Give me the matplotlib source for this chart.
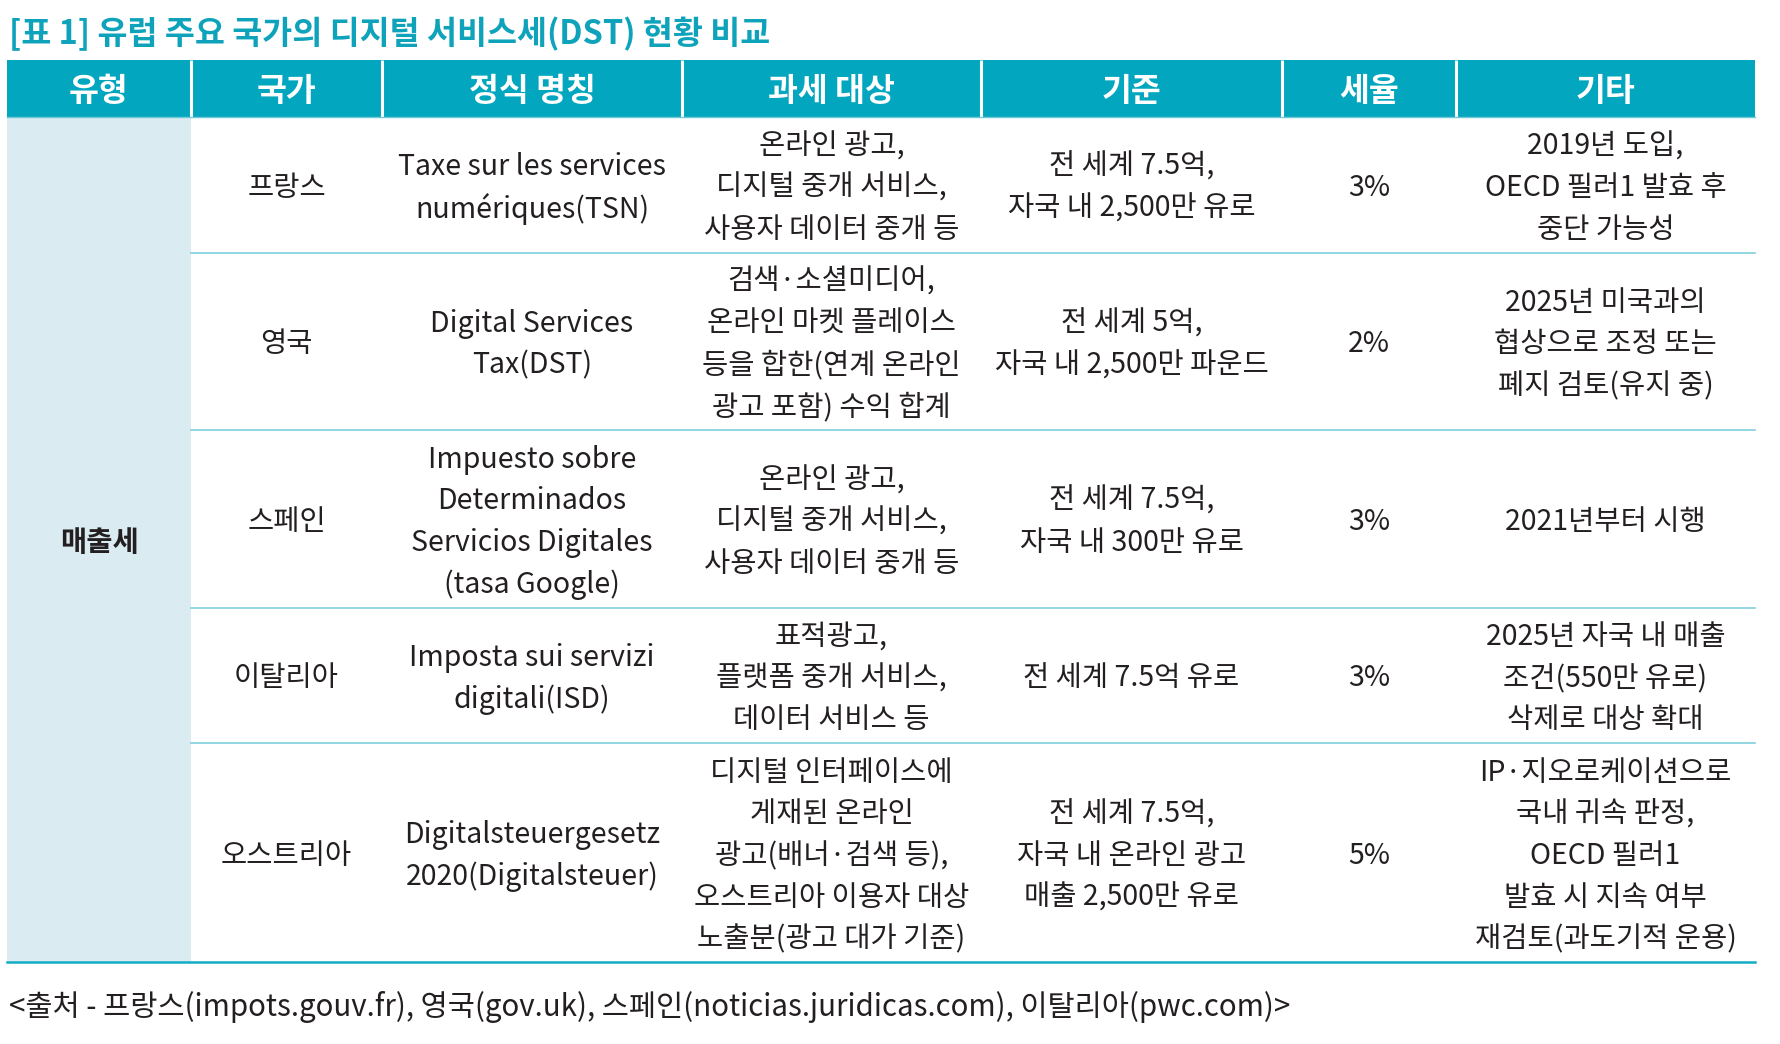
import matplotlib.pyplot as plt
from matplotlib.patches import Rectangle

plt.rcParams['font.family'] = ['Noto Sans CJK KR', 'DejaVu Sans']

title = "[표 1] 유럽 주요 국가의 디지털 서비스세(DST) 현황 비교"
headers = ["유형", "국가", "정식 명칭", "과세 대상", "기준", "세율", "기타"]
tax_type = "매출세"
countries = ["프랑스", "영국", "스페인", "이탈리아", "오스트리아"]
official_names = [
    ["Taxe sur les services", "numériques(TSN)"],
    ["Digital Services", "Tax(DST)"],
    ["Impuesto sobre", "Determinados", "Servicios Digitales", "(tasa Google)"],
    ["Imposta sui servizi", "digitali(ISD)"],
    ["Digitalsteuergesetz", "2020(Digitalsteuer)"],
]
targets = [
    ["온라인 광고,", "디지털 중개 서비스,", "사용자 데이터 중개 등"],
    ["검색·소셜미디어,", "온라인 마켓 플레이스", "등을 합한(연계 온라인", "광고 포함) 수익 합계"],
    ["온라인 광고,", "디지털 중개 서비스,", "사용자 데이터 중개 등"],
    ["표적광고,", "플랫폼 중개 서비스,", "데이터 서비스 등"],
    ["디지털 인터페이스에", "게재된 온라인", "광고(배너·검색 등),", "오스트리아 이용자 대상", "노출분(광고 대가 기준)"],
]
thresholds = [
    ["전 세계 7.5억,", "자국 내 2,500만 유로"],
    ["전 세계 5억,", "자국 내 2,500만 파운드"],
    ["전 세계 7.5억,", "자국 내 300만 유로"],
    ["전 세계 7.5억 유로"],
    ["전 세계 7.5억,", "자국 내 온라인 광고", "매출 2,500만 유로"],
]
rates = ["3%", "2%", "3%", "3%", "5%"]
notes = [
    ["2019년 도입,", "OECD 필러1 발효 후", "중단 가능성"],
    ["2025년 미국과의", "협상으로 조정 또는", "폐지 검토(유지 중)"],
    ["2021년부터 시행"],
    ["2025년 자국 내 매출", "조건(550만 유로)", "삭제로 대상 확대"],
    ["IP·지오로케이션으로", "국내 귀속 판정,", "OECD 필러1", "발효 시 지속 여부", "재검토(과도기적 운용)"],
]
source = "<출처 - 프랑스(impots.gouv.fr), 영국(gov.uk), 스페인(noticias.juridicas.com), 이탈리아(pwc.com)>"

# layout in pixels
W, H = 1780, 1044
col_edges = [7, 191, 382, 682, 981, 1282, 1456, 1755]
head_top, head_bot = 60, 117
line_gap = 41.6
pad = 11

teal = '#02A6BE'
teal_line = '#12ADC4'
row_line = '#80CFDC'
type_bg = '#DAECF1'
ink = '#231F20'

px = 0.72  # px -> pt at 100 dpi
body = 28.5 * px

fig = plt.figure(figsize=(W / 100, H / 100), dpi=100)
ax = fig.add_axes([0, 0, 1, 1])
ax.set_xlim(0, W)
ax.set_ylim(H, 0)
ax.axis('off')

ax.text(9, 34, title, fontsize=32.6 * px, fontweight='bold', color='#0FA3BB',
        ha='left', va='center')

# header
ax.add_patch(Rectangle((col_edges[0], head_top), col_edges[-1] - col_edges[0],
                       head_bot - head_top, facecolor=teal, edgecolor='none'))
for i, h in enumerate(headers):
    cx = (col_edges[i] + col_edges[i + 1]) / 2
    ax.text(cx, (head_top + head_bot) / 2 + 3, h, fontsize=32.5 * px,
            fontweight='bold', color='white', ha='center', va='center')
for x in col_edges[1:-1]:
    ax.plot([x, x], [head_top, head_bot], color='white', lw=2.2, solid_capstyle='butt')
ax.plot([col_edges[0], col_edges[-1]], [head_bot, head_bot], color='#6FC8D6', lw=1.0)

# body rows
rows = list(zip(countries, official_names, targets, thresholds, rates, notes))
row_edges = [head_bot]
for r in rows:
    n = max(len(c) if isinstance(c, list) else 1 for c in r)
    row_edges.append(row_edges[-1] + n * line_gap + pad)

ax.add_patch(Rectangle((col_edges[0], head_bot), col_edges[1] - col_edges[0],
                       row_edges[-1] - head_bot, facecolor=type_bg, edgecolor='none'))
ax.text((col_edges[0] + col_edges[1]) / 2, (head_bot + row_edges[-1]) / 2 + 3, tax_type,
        fontsize=body, fontweight='bold', color=ink, ha='center', va='center')

for ri, r in enumerate(rows):
    cy = (row_edges[ri] + row_edges[ri + 1]) / 2 + 3
    for ci, cell in enumerate(r):
        lines = cell if isinstance(cell, list) else [cell]
        cx = (col_edges[ci + 1] + col_edges[ci + 2]) / 2
        for li, line in enumerate(lines):
            y = cy + (li - (len(lines) - 1) / 2) * line_gap
            ax.text(cx, y, line, fontsize=body, color=ink, ha='center', va='center')

for y in row_edges[1:-1]:
    ax.plot([col_edges[1], col_edges[-1]], [y, y], color=row_line, lw=1.2)
ax.plot([col_edges[0], col_edges[-1]], [row_edges[-1], row_edges[-1]], color=teal_line, lw=1.8)

ax.text(9, row_edges[-1] + 45, source, fontsize=29.5 * px, color=ink, ha='left', va='center')

fig.savefig('out.png', dpi=100)
